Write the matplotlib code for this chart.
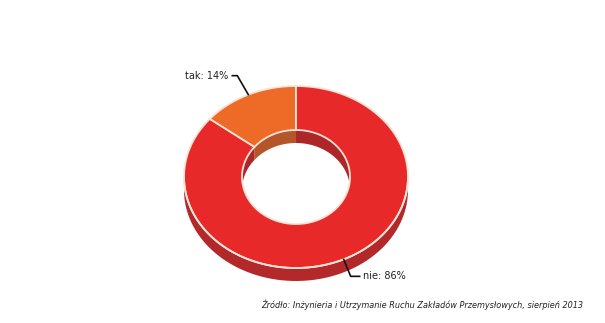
import numpy as np
import matplotlib
matplotlib.use("Agg")
import matplotlib.pyplot as plt
from matplotlib.patches import Polygon

# data
labels = ["tak", "nie"]
shares = [14, 86]
top_colors = ["#ee6b27", "#e8292a"]
side_colors = ["#b4552a", "#ad2729"]
source = "Źródło: Inżynieria i Utrzymanie Ruchu Zakładów Przemysłowych, sierpień 2013"

# geometry in pixel space
cx, cy = 296, 177
rx, ry = 112, 91
rx_in, ry_in = 54, 47
depth = 13
edge = "#f7e4d6"


def arc(a0, a1, ax_r, ay_r, dy=0, n=120):
    t = np.radians(np.linspace(a0, a1, n))
    return np.column_stack([cx + ax_r * np.cos(t), cy + dy - ay_r * np.sin(t)])


fig = plt.figure(figsize=(6.05, 3.23), dpi=100)
ax = fig.add_axes([0, 0, 1, 1])
ax.set_xlim(0, 605)
ax.set_ylim(323, 0)
ax.axis("off")

total = float(sum(shares))
start = 90.0
spans = []
for s in shares:
    end = start + 360.0 * s / total
    spans.append((start, end))
    start = end

for (a0, a1), tc, sc in zip(spans, top_colors, side_colors):
    # outer side wall
    side = np.vstack([arc(a0, a1, rx, ry), arc(a1, a0, rx, ry, depth)])
    ax.add_patch(Polygon(side, closed=True, fc="#b3282b", ec="none", zorder=1))
    # inner wall seen through the hole
    wall = np.vstack([arc(a0, a1, rx_in, ry_in), arc(a1, a0, rx_in, ry_in, depth)])
    ax.add_patch(Polygon(wall, closed=True, fc=sc, ec="none", zorder=1))
    # top face
    top = np.vstack([arc(a0, a1, rx, ry), arc(a1, a0, rx_in, ry_in)])
    ax.add_patch(Polygon(top, closed=True, fc=tc, ec=edge, lw=1.3, zorder=2))

# rim line between top face and side wall
ax.plot(*arc(180, 360, rx, ry).T, color=edge, lw=1.3, zorder=3)

# labels with leader lines
mids = [(a0 + a1) / 2 for a0, a1 in spans]
t = np.radians(mids[0])
px, py = cx + rx * np.cos(t), cy - ry * np.sin(t)
ax.plot([px, px - 11, px - 16], [py, py - 19, py - 19], color="#111111", lw=1.2, zorder=4)
ax.text(px - 20, py - 19, f"{labels[0]}: {shares[0]}%", ha="right", va="center",
        fontsize=7, color="#222222")

t = np.radians(mids[1])
px, py = cx + rx * np.cos(t), cy - ry * np.sin(t)
ax.plot([px, px + 7, px + 16], [py, py + 17, py + 17], color="#111111", lw=1.2, zorder=4)
ax.text(px + 19, py + 17, f"{labels[1]}: {shares[1]}%", ha="left", va="center",
        fontsize=7, color="#222222")

ax.text(583, 305, source, ha="right", va="center", fontsize=5.9, style="italic",
        color="#222222")

fig.savefig("out.png", dpi=100, facecolor="white")
